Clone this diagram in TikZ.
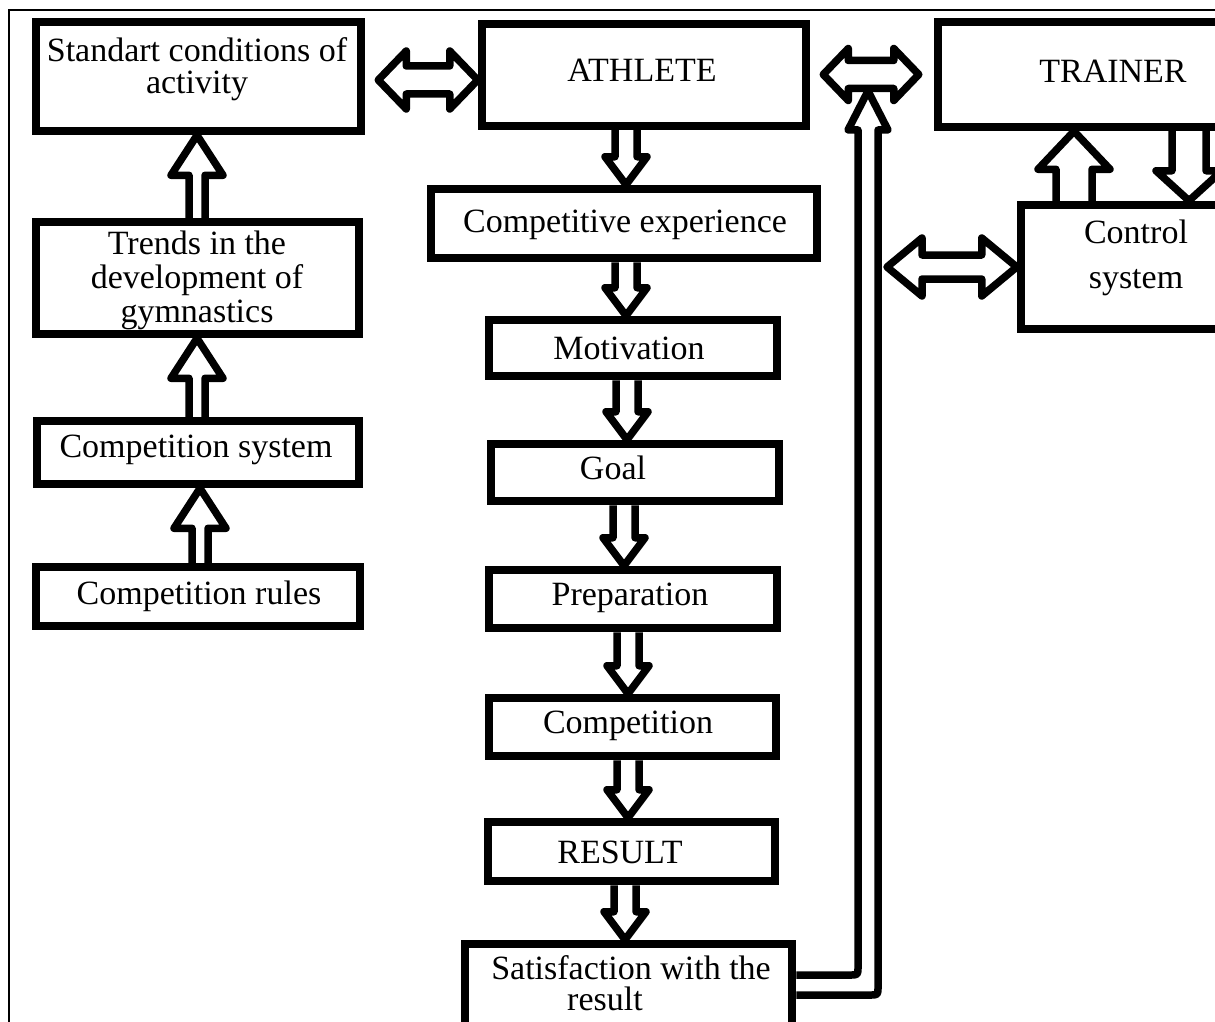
\documentclass[tikz,border=0pt]{standalone}
\usepackage{fontspec}
\setmainfont{Liberation Serif}
\usetikzlibrary{calc}
\tikzset{
  bx/.style 2 args={draw, line width=8.5pt, minimum width=#1, minimum height=#2, inner sep=0pt},
  txt/.style={font=\fontsize{34}{33}\selectfont, align=center, inner sep=0pt},
  blk/.style={draw, line width=7.5pt, line join=round, fill=white},
}
% vertical block arrow pointing down: x, from, to, shaft hw, head hw, head length
\newcommand\downblk[6]{%
  \draw[blk] let \p1=(#2), \p2=(#3) in
    ({#1pt-#4pt},\y1) -- ({#1pt-#4pt},{\y2+#6pt}) -- ({#1pt-#5pt},{\y2+#6pt})
    -- ({#1pt},\y2) -- ({#1pt+#5pt},{\y2+#6pt}) -- ({#1pt+#4pt},{\y2+#6pt})
    -- ({#1pt+#4pt},\y1);}
% vertical block arrow pointing up
\newcommand\upblk[6]{%
  \draw[blk] let \p1=(#2), \p2=(#3) in
    ({#1pt-#4pt},\y1) -- ({#1pt-#4pt},{\y2-#6pt}) -- ({#1pt-#5pt},{\y2-#6pt})
    -- ({#1pt},\y2) -- ({#1pt+#5pt},{\y2-#6pt}) -- ({#1pt+#4pt},{\y2-#6pt})
    -- ({#1pt+#4pt},\y1);}
% horizontal double block arrow: y (pixels, down), left tip, right tip, shaft hw, head hw, head length
\newcommand\dblblk[6]{%
  \draw[blk] let \p1=(#2), \p2=(#3) in
    (\x1,{-#1pt}) -- ({\x1+#6pt},{-#1pt+#5pt}) -- ({\x1+#6pt},{-#1pt+#4pt})
    -- ({\x2-#6pt},{-#1pt+#4pt}) -- ({\x2-#6pt},{-#1pt+#5pt}) -- (\x2,{-#1pt})
    -- ({\x2-#6pt},{-#1pt-#5pt}) -- ({\x2-#6pt},{-#1pt-#4pt})
    -- ({\x1+#6pt},{-#1pt-#4pt}) -- ({\x1+#6pt},{-#1pt-#5pt}) -- cycle;}
\begin{document}
\begin{tikzpicture}[x=1pt,y=-1pt]
\useasboundingbox (0,0) rectangle (1215,1022);
\clip (0,0) rectangle (1215,1022);
\fill[white] (0,0) rectangle (1215,1022);
\draw[line width=2.5pt] (9,1030) -- (9,10) -- (1220,10);

% left column
\node[bx={325}{109}] (std) at (198.5,76.5) {};
\node[txt, font=\fontsize{34}{32}\selectfont] (stdt) at (197,69) {Standart conditions of\\activity};
\node[bx={323}{112}] (trends) at (197.5,278) {};
\node[txt, font=\fontsize{34}{34}\selectfont] (trendst) at (197,280) {Trends in the\\development of\\gymnastics};
\node[bx={322}{63}] (csys) at (198,452.5) {};
\node[txt] (csyst) at (196,450) {Competition system};
\node[bx={324}{59}] (crules) at (198,596.5) {};
\node[txt] (crulest) at (199,596) {Competition rules};

% center column
\node[bx={324}{102}] (athlete) at (644,75) {};
\node[txt] (athletet) at (642,70) {ATHLETE};
\node[bx={386}{69}] (exp) at (624,223.5) {};
\node[txt] (expt) at (625,225) {Competitive experience};
\node[bx={288}{56}] (motiv) at (633,348) {};
\node[txt] (motivt) at (629,348) {Motivation};
\node[bx={288}{57}] (goal) at (635,472.5) {};
\node[txt] (goalt) at (613,468) {Goal};
\node[bx={288}{58}] (prep) at (633,599) {};
\node[txt] (prept) at (630,598) {Preparation};
\node[bx={287}{58}] (comp) at (632.5,727) {};
\node[txt] (compt) at (628,726) {Competition};
\node[bx={287}{59}] (result) at (631.5,851.5) {};
\node[txt] (resultt) at (620,852) {RESULT};
\node[bx={327}{86}] (satis) at (628.5,987) {};
\node[txt, font=\fontsize{34}{31}\selectfont] (satist) at (631,983) {Satisfaction with the\\\hspace*{-52pt}result};

% right side
\node[bx={287}{105}] (trainer) at (1081.5,74.5) {};
\node[txt] (trainert) at (1113,71) {TRAINER};
\node[bx={204}{124}] (control) at (1123,267) {};
\node[txt, font=\fontsize{34}{45}\selectfont] (controlt) at (1136,258) {Control\\system};

\coordinate (fbk) at (887,267);
\coordinate (dbtip) at (868,91);

% left column arrows
\upblk{197}{trends.north}{std.south}{8}{26}{40}
\upblk{197}{csys.north}{trends.south}{8}{26}{40}
\upblk{200}{crules.north}{csys.south}{8}{26}{40}

% center column arrows
\downblk{626}{athlete.south}{exp.north}{11}{21}{28}
\downblk{626}{exp.south}{motiv.north}{11}{21}{28}
\downblk{627}{motiv.south}{goal.north}{11}{21}{28}
\downblk{624}{goal.south}{prep.north}{11}{21}{28}
\downblk{628}{prep.south}{comp.north}{11}{21}{28}
\downblk{628}{comp.south}{result.north}{11}{21}{28}
\downblk{625}{result.south}{satis.north}{11}{21}{28}

% double arrows
\dblblk{80}{$(std.east)+(13,0)$}{athlete.west}{14}{29}{28}
\dblblk{74.5}{$(athlete.east)+(13,0)$}{$(trainer.west)+(-15,0)$}{14}{26}{25}
\dblblk{267}{fbk}{control.west}{12}{29}{35}

% trainer <-> control
\upblk{1074}{control.north}{trainer.south}{18}{36}{38}
\downblk{1189}{trainer.south}{control.north}{17}{33}{30}

% feedback arrow from satisfaction
\draw[blk, fill=none] let \p1=(satis.east), \p2=(dbtip) in
  (\x1,{-975pt}) -- ({850pt},{-975pt}) .. controls ({858pt},{-975pt}) .. ({858pt},{-967pt})
  -- ({858pt},{\y2-39pt}) -- ({848pt},{\y2-39pt}) -- ({868pt},\y2)
  -- ({888pt},{\y2-39pt}) -- ({878pt},{\y2-39pt}) -- ({878pt},{-987pt})
  .. controls ({878pt},{-995pt}) .. ({870pt},{-995pt}) -- (\x1,{-995pt});
\end{tikzpicture}
\end{document}
